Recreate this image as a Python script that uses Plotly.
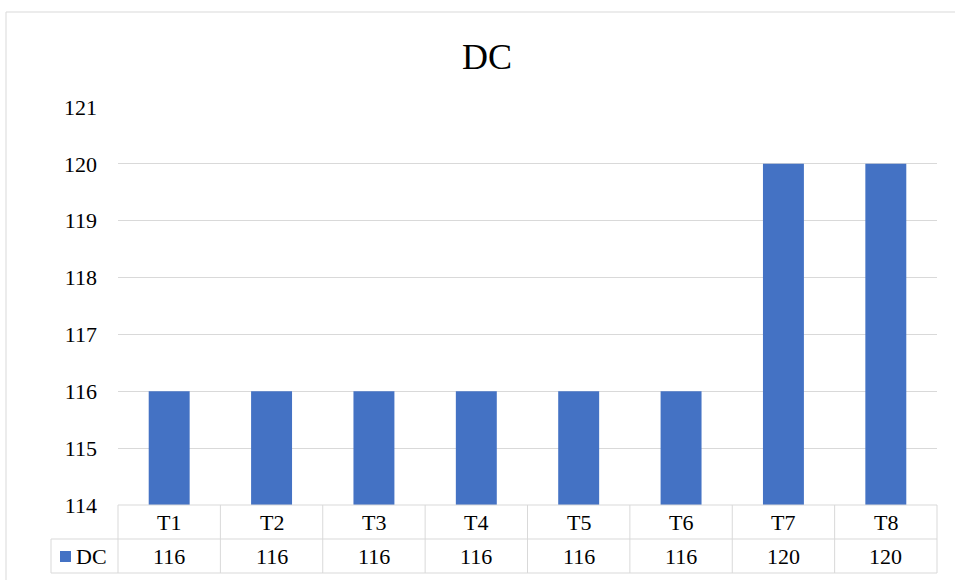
import plotly.graph_objects as go

categories = ["T1", "T2", "T3", "T4", "T5", "T6", "T7", "T8"]
dc_values = [116, 116, 116, 116, 116, 116, 120, 120]
series_name = "DC"
y_ticks = [114, 115, 116, 117, 118, 119, 120, 121]

W, H = 955, 580
L, R, T, B = 118, 18, 107, 75
plot_w = W - L - R
plot_h = H - T - B

BAR_COLOR = "#4472C4"
GRID = "#d9d9d9"
FONT = "Liberation Serif, Times New Roman, serif"


def px(xp):
    return (xp - L) / plot_w


def py(yp):
    return (H - B - yp) / plot_h


fig = go.Figure(
    go.Bar(
        x=categories,
        y=dc_values,
        marker=dict(color=BAR_COLOR, line=dict(width=0)),
        name=series_name,
        showlegend=False,
    )
)

shapes = []
line = dict(color=GRID, width=1)
n = len(categories)
row1_top, row1_bot, row2_bot = H - B, 539, 573
legend_left = 51

# data table grid under the plot
shapes.append(dict(type="line", xref="paper", yref="paper", x0=0, x1=1,
                   y0=py(row1_top), y1=py(row1_top), line=line))
for yy in (row1_bot, row2_bot):
    shapes.append(dict(type="line", xref="paper", yref="paper", x0=px(legend_left), x1=1,
                       y0=py(yy), y1=py(yy), line=line))
for i in range(n + 1):
    shapes.append(dict(type="line", xref="paper", yref="paper", x0=i / n, x1=i / n,
                       y0=py(row1_top), y1=py(row2_bot), line=line))
shapes.append(dict(type="line", xref="paper", yref="paper", x0=px(legend_left), x1=px(legend_left),
                   y0=py(row1_bot), y1=py(row2_bot), line=line))

# legend key square in the table
shapes.append(dict(type="rect", xref="paper", yref="paper", x0=px(60), x1=px(71),
                   y0=py(562), y1=py(551), fillcolor=BAR_COLOR, line=dict(width=0)))

# chart frame
shapes.append(dict(type="rect", xref="paper", yref="paper", x0=px(6), x1=px(962),
                   y0=py(590), y1=py(12), line=line, fillcolor="rgba(0,0,0,0)"))

cell_font = dict(family=FONT, size=22, color="#000")
annotations = []
for c, v in zip(categories, dc_values):
    annotations.append(dict(x=c, xref="x", y=py((row1_top + row1_bot) / 2), yref="paper",
                            text=c, showarrow=False, font=cell_font,
                            xanchor="center", yanchor="middle"))
    annotations.append(dict(x=c, xref="x", y=py((row1_bot + row2_bot) / 2), yref="paper",
                            text=str(v), showarrow=False, font=cell_font,
                            xanchor="center", yanchor="middle"))
annotations.append(dict(x=px(74), xref="paper", y=py((row1_bot + row2_bot) / 2), yref="paper",
                        text=series_name, showarrow=False, font=cell_font,
                        xanchor="left", yanchor="middle"))

fig.update_layout(
    width=W, height=H,
    margin=dict(l=L, r=R, t=T, b=B),
    paper_bgcolor="white", plot_bgcolor="white",
    bargap=0.6,
    title=dict(text="DC", x=487 / W, xanchor="center", y=1 - 56 / H, yanchor="middle",
               font=dict(family=FONT, size=36, color="#000")),
    xaxis=dict(showticklabels=False, showgrid=False, zeroline=False, showline=False,
               range=[-0.5, n - 0.5]),
    yaxis=dict(range=[y_ticks[0], y_ticks[-1]], tickvals=y_ticks, showgrid=True, gridcolor=GRID,
               gridwidth=1, zeroline=False, showline=False, ticks="",
               ticklabelstandoff=20,
               tickfont=dict(family=FONT, size=22, color="#000")),
    shapes=shapes,
    annotations=annotations,
    font=dict(family=FONT),
)

fig.write_html("out.html")
